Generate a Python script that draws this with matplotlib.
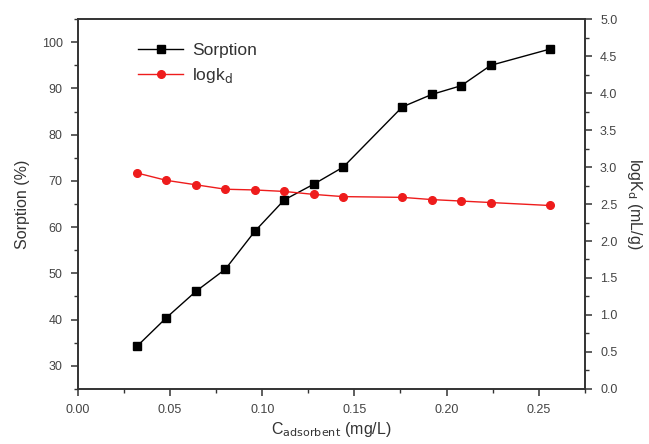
import matplotlib
matplotlib.use("Agg")
import matplotlib.pyplot as plt
from matplotlib.ticker import MultipleLocator, FormatStrFormatter

plt.rcParams['font.family'] = ['Liberation Sans', 'DejaVu Sans']

c_adsorbent = [0.032, 0.048, 0.064, 0.080, 0.096, 0.112, 0.128, 0.144, 0.176, 0.192, 0.208, 0.224, 0.256]
sorption = [34.2, 40.4, 46.1, 50.9, 59.1, 65.9, 69.3, 73.0, 86.0, 88.7, 90.6, 95.0, 98.5]
logkd = [2.92, 2.82, 2.76, 2.70, 2.69, 2.67, 2.63, 2.60, 2.59, 2.56, 2.54, 2.52, 2.48]

fig = plt.figure(figsize=(6.49, 4.44), dpi=100)
ax = fig.add_axes([0.120, 0.124, 0.781, 0.833])
ax2 = ax.twinx()

l1, = ax.plot(c_adsorbent, sorption, color='black', lw=1, marker='s', ms=5.5, label='Sorption')
l2, = ax2.plot(c_adsorbent, logkd, color='#ee1c1c', lw=1, marker='o', ms=5.5, label='logk$_{\\rm d}$')

ax.set_xlim(0, 0.275)
ax.set_ylim(25, 105)
ax2.set_ylim(0, 5)

ax.xaxis.set_major_locator(MultipleLocator(0.05))
ax.xaxis.set_minor_locator(MultipleLocator(0.025))
ax.xaxis.set_major_formatter(FormatStrFormatter('%.2f'))
ax.yaxis.set_major_locator(MultipleLocator(10))
ax.yaxis.set_minor_locator(MultipleLocator(5))
ax2.yaxis.set_major_locator(MultipleLocator(0.5))
ax2.yaxis.set_minor_locator(MultipleLocator(0.25))
ax2.yaxis.set_major_formatter(FormatStrFormatter('%.1f'))

tc = '#444444'
for a in (ax, ax2):
    for s in a.spines.values():
        s.set_color('#333333')
        s.set_linewidth(1.2)
    a.tick_params(which='major', direction='out', length=5, width=1.1, color='#333333',
                  labelsize=9, labelcolor=tc, pad=6)
    a.tick_params(which='minor', direction='out', length=3, width=1.0, color='#333333')

ax.set_ylim(25, 105)
ax.yaxis.set_ticks([30, 40, 50, 60, 70, 80, 90, 100])

ax.set_xlabel('C$_{\\rm adsorbent}$ (mg/L)', fontsize=11.5, color='#333333', labelpad=3)
ax.set_ylabel('Sorption (%)', fontsize=11.5, color='#333333', labelpad=8)
ax2.set_ylabel('logK$_{\\rm d}$ (mL/g)', fontsize=11.5, color='#333333', rotation=270, labelpad=19)

leg = ax.legend(handles=[l1, l2], loc='upper left', bbox_to_anchor=(0.105, 0.955), frameon=False,
                fontsize=12.5, handlelength=2.6, borderaxespad=0, labelspacing=0.45, handletextpad=0.5)
for t in leg.get_texts():
    t.set_color('#333333')

fig.savefig('out.png', dpi=100)
